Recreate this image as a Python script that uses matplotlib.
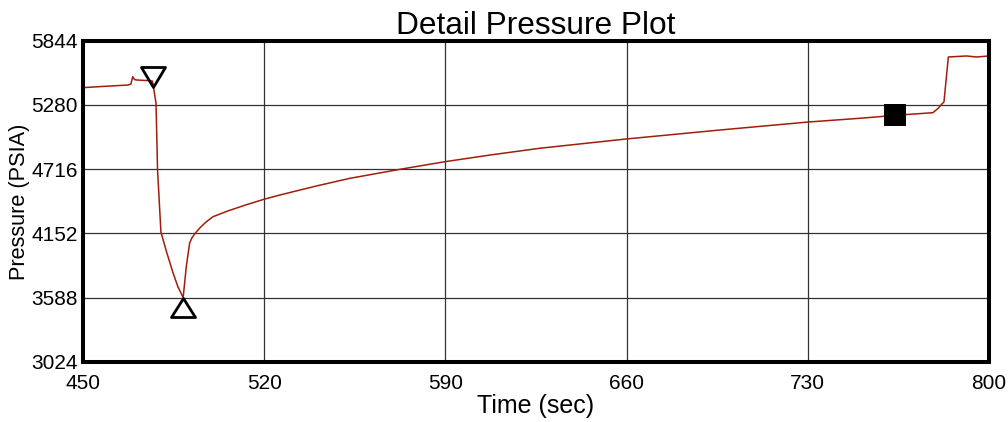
import matplotlib
matplotlib.use("Agg")
import matplotlib.pyplot as plt
from matplotlib.path import Path
from matplotlib.markers import MarkerStyle

plt.rcParams['font.family'] = ['Liberation Sans', 'DejaVu Sans']

# Pressure trace (time in seconds, pressure in PSIA)
time_s = [450.0, 458.0, 467.4, 468.5, 469.2, 469.9, 470.7, 475.9, 476.8, 477.2,
          478.2, 478.8, 480.1, 482.4, 484.8, 486.7, 488.7, 489.9, 491.2, 492.0,
          493.2, 495.1, 497.5, 500.2, 506.0, 513.2, 519.9, 526.1, 540.0, 553.1,
          572.4, 589.8, 608.0, 626.5, 659.7, 696.0, 730.0, 750.1, 765.6, 778.3,
          780.4, 781.7, 782.6, 784.3, 791.3, 795.2, 800.0]
pressure_psia = [5432, 5443, 5455, 5464, 5528, 5503, 5499, 5493, 5490, 5440,
                 5297, 4710, 4165, 3981, 3805, 3682, 3590, 3861, 4069, 4110,
                 4150, 4200, 4252, 4299, 4350, 4405, 4452, 4490, 4568, 4636,
                 4715, 4782, 4843, 4900, 4981, 5060, 5130, 5163, 5192, 5212,
                 5251, 5286, 5306, 5701, 5710, 5701, 5710]

# Event picks
start_time, start_p = [477.1], [5440]
min_time, min_p = [488.7], [3590]
end_time, end_p = [763.6], [5188]

x_ticks = [450, 520, 590, 660, 730, 800]
y_ticks = [3024, 3588, 4152, 4716, 5280, 5844]

fig = plt.figure(figsize=(10.08, 4.22), dpi=100)
ax = fig.add_axes([83 / 1008, 1 - 362 / 422, 906 / 1008, 321.3 / 422])

ax.plot(time_s, pressure_psia, color='#a11d0c', lw=1.1, zorder=3)

# Triangles with their tips on the picked points
down_tri = Path([(0, 0), (-12, 20), (12, 20), (0, 0)],
                [Path.MOVETO, Path.LINETO, Path.LINETO, Path.CLOSEPOLY])
up_tri = Path([(0, 0), (-12, -19), (12, -19), (0, 0)],
              [Path.MOVETO, Path.LINETO, Path.LINETO, Path.CLOSEPOLY])
ax.plot(start_time, start_p, linestyle='none',
        marker=MarkerStyle(down_tri, joinstyle='miter'), ms=2 * 20 / 1.389,
        mfc='none', mec='black', mew=2.0, zorder=4)
ax.plot(min_time, min_p, linestyle='none',
        marker=MarkerStyle(up_tri, joinstyle='miter'), ms=2 * 19 / 1.389,
        mfc='none', mec='black', mew=2.0, zorder=4)
ax.plot(end_time, end_p, linestyle='none', marker='s', ms=15.5,
        mfc='black', mec='black', mew=0, zorder=4)

ax.set_xlim(450, 800)
ax.set_ylim(3024, 5844)
ax.set_xticks(x_ticks)
ax.set_yticks(y_ticks)
ax.tick_params(axis='both', length=0, labelsize=15)
ax.tick_params(axis='x', pad=8.5)
ax.tick_params(axis='y', pad=3.5)
ax.grid(True, color='#333333', lw=0.9)
ax.set_axisbelow(True)

for sp in ax.spines.values():
    sp.set_linewidth(2.9)
    sp.set_color('black')
    sp.set_zorder(5)

ax.set_title('Detail Pressure Plot', fontsize=22.8, pad=4.5)
ax.set_xlabel('Time (sec)', fontsize=18, labelpad=1)
ax.set_ylabel('Pressure (PSIA)', fontsize=15.7)
ax.yaxis.set_label_coords(-0.0585, 0.5)

fig.savefig('out.png', dpi=100)
